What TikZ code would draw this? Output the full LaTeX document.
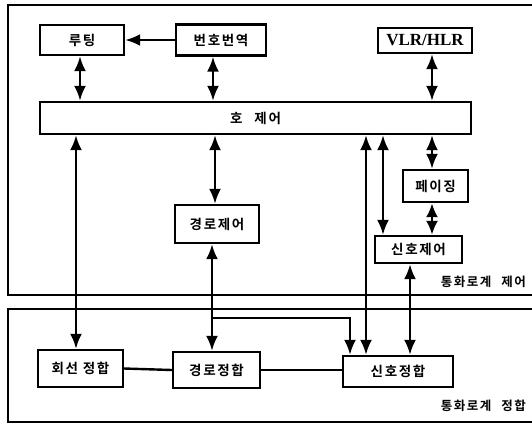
\documentclass[tikz,border=0pt]{standalone}
\usepackage{fontspec}
\setmainfont{Noto Sans CJK KR}[LetterSpace=12,BoldFont={Noto Sans CJK KR Bold}]
\newfontfamily\latinserif{Liberation Serif}
\usetikzlibrary{arrows.meta,calc}
\begin{document}
\begin{tikzpicture}[x=1pt,y=-1pt,
  box/.style={draw,line width=2.4pt,inner sep=0pt,font=\fontsize{13.5}{15}\selectfont\bfseries,fill=white},
  conn/.style={line width=2.4pt},
  tip/.style={-{Latex[length=15pt,width=12pt]}},
  dbl/.style={{Latex[length=15pt,width=12pt]}-{Latex[length=15pt,width=12pt]}},
  frame/.style={line width=2.2pt},
  lbl/.style={font=\fontsize{12.5}{14}\selectfont\bfseries,inner sep=0pt,anchor=east}]
\useasboundingbox (0,0) rectangle (532,424);
\clip (0,0) rectangle (532,424);
% frames
\draw[frame] (8,5) rectangle (560,295);
\draw[frame] (8,309) rectangle (560,422);
% nodes
\node[box,minimum width=84pt,minimum height=30pt] (rt) at (82,40) {루팅};
\node[box,minimum width=90pt,minimum height=31pt] (bh) at (221,40) {번호번역};
\node[box,minimum width=94pt,minimum height=25pt,font=\latinserif\fontsize{17}{19}\selectfont\bfseries] (vlr) at (425,40.5) {VLR/HLR};
\node[box,minimum width=431pt,minimum height=32pt] (hc) at (255.5,118) {호\hspace{12pt}제어};
\node[box,minimum width=84pt,minimum height=38pt] (gc) at (217,224) {경로제어};
\node[box,minimum width=65pt,minimum height=32pt] (pg) at (435.5,186) {페이징};
\node[box,minimum width=87pt,minimum height=27pt] (sc) at (418.5,249.5) {신호제어};
\node[box,minimum width=85pt,minimum height=37pt] (hj) at (80.5,368.5) {회선 정합};
\node[box,minimum width=87pt,minimum height=36pt] (gj) at (216.5,370) {경로정합};
\node[box,minimum width=110pt,minimum height=31pt] (sj) at (398,371.5) {신호정합};
\node[lbl] (l1) at (526,282) {통화로계\hspace{10pt}제어};
\node[lbl] (l2) at (526,406) {통화로계\hspace{10pt}정합};
% x positions
\coordinate (xa) at (80,0);
\coordinate (xb) at (213,0);
\coordinate (xc) at (432,0);
\coordinate (xd) at (215,0);
\coordinate (xe) at (212,0);
\coordinate (xf) at (76,0);
\coordinate (xg) at (366,0);
\coordinate (xh) at (383,0);
\coordinate (xi) at (410,0);
\coordinate (xj) at (350,0);
\coordinate (br) at (212,318);
% connectors
\draw[conn,tip] (bh.west) -- (rt.east);
\draw[conn,dbl] (xa |- rt.south) -- (xa |- hc.north);
\draw[conn,dbl] (xb |- bh.south) -- (xb |- hc.north);
\draw[conn,dbl] (xc |- vlr.south) -- (xc |- hc.north);
\draw[conn,dbl] (xd |- hc.south) -- (xd |- gc.north);
\draw[conn,dbl] (xe |- gc.south) -- (xe |- gj.north);
\draw[conn,dbl] (xf |- hc.south) -- (xf |- hj.north);
\draw[conn,dbl] (xg |- hc.south) -- (xg |- sj.north);
\draw[conn,dbl] (xh |- hc.south) -- (xh |- sc.north);
\draw[conn,dbl] (xc |- hc.south) -- (xc |- pg.north);
\draw[conn,{Latex[length=14pt,width=12pt]}-{Latex[length=14pt,width=12pt]}] (xc |- pg.south) -- (xc |- sc.north);
\draw[conn,dbl] (xi |- sc.south) -- (xi |- sj.north);
\draw[conn,tip] (br) -| (xj |- sj.north);
\draw[conn] (hj.east) -- (gj.west);
\draw[conn] (gj.east) -- (gj.east -| sj.west);
\end{tikzpicture}
\end{document}
